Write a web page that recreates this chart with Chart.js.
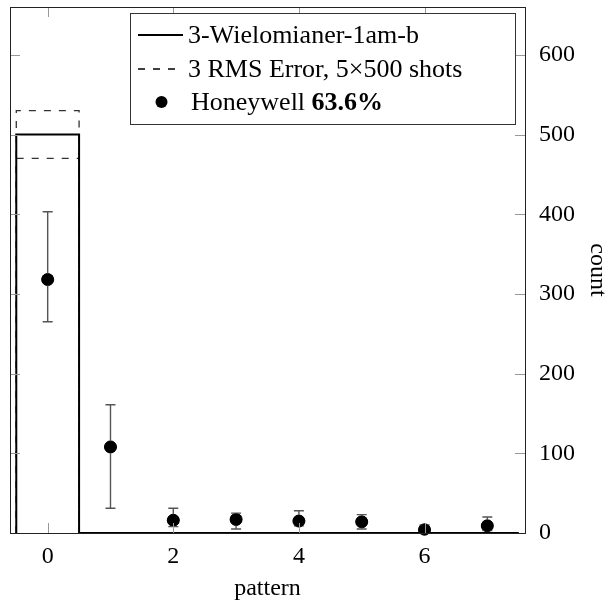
<!DOCTYPE html>
<html>
<head>
<meta charset="utf-8">
<script src="https://cdn.jsdelivr.net/npm/chart.js@4/dist/chart.umd.min.js"></script>
<style>
  html, body { margin: 0; padding: 0; background: #fff; }
  #wrap { width: 613px; height: 606px; }
</style>
</head>
<body>
<div id="wrap"><canvas id="countChart" width="613" height="606"></canvas></div>
<script>
const patterns = [0, 1, 2, 3, 4, 5, 6, 7];
const simCounts = [500, 0, 0, 0, 0, 0, 0, 0];
const rmsUpper = [530, 0, 0, 0, 0, 0, 0, 0];
const rmsLower = [470, 0, 0, 0, 0, 0, 0, 0];
const hwCounts = [318, 108, 16, 17, 15, 14, 4, 9];
const hwLow = [265, 31, 8, 5, 9, 5, 1, 3];
const hwHigh = [403, 161, 31, 25, 28, 23, 10, 20];
const xTicks = [0, 2, 4, 6];
const yTicks = [0, 100, 200, 300, 400, 500, 600];

const serif = '"Liberation Serif", "DejaVu Serif", serif';

// histogram outline: each bin is a flat step from i-0.5 to i+0.5
function stepPoints(values) {
    let pts = [{ x: patterns[0] - 0.5, y: 0 }];
    values.forEach((v, i) => {
        pts.push({ x: patterns[i] - 0.5, y: v });
        pts.push({ x: patterns[i] + 0.5, y: v });
    });
    pts.push({ x: patterns[patterns.length - 1] + 0.5, y: 0 });
    return pts;
}

const errorBars = {
    id: 'errorBars',
    afterDatasetsDraw(chart) {
        const ctx = chart.ctx;
        const xs = chart.scales.x, ys = chart.scales.y;
        ctx.save();
        ctx.strokeStyle = '#555';
        ctx.lineWidth = 1.4;
        patterns.forEach((p, i) => {
            const px = xs.getPixelForValue(p);
            const lo = ys.getPixelForValue(hwLow[i]);
            const hi = ys.getPixelForValue(hwHigh[i]);
            ctx.beginPath();
            ctx.moveTo(px, lo); ctx.lineTo(px, hi);
            ctx.moveTo(px - 5, lo); ctx.lineTo(px + 5, lo);
            ctx.moveTo(px - 5, hi); ctx.lineTo(px + 5, hi);
            ctx.stroke();
        });
        // draw the markers again on top of the bars
        ctx.fillStyle = '#000';
        patterns.forEach((p, i) => {
            ctx.beginPath();
            ctx.arc(xs.getPixelForValue(p), ys.getPixelForValue(hwCounts[i]), 6, 0, Math.PI * 2);
            ctx.fill();
        });
        ctx.restore();
    }
};

const frameAndTicks = {
    id: 'frameAndTicks',
    afterDraw(chart) {
        const ctx = chart.ctx;
        const a = chart.chartArea;
        const xs = chart.scales.x, ys = chart.scales.y;
        const len = 10;
        ctx.save();
        ctx.strokeStyle = '#999';
        ctx.lineWidth = 1;
        ctx.beginPath();
        xTicks.forEach(t => {
            const px = Math.round(xs.getPixelForValue(t)) + 0.5;
            ctx.moveTo(px, a.bottom); ctx.lineTo(px, a.bottom - len);
            ctx.moveTo(px, a.top); ctx.lineTo(px, a.top + len);
        });
        yTicks.forEach(t => {
            const py = Math.round(ys.getPixelForValue(t)) + 0.5;
            ctx.moveTo(a.left, py); ctx.lineTo(a.left + len, py);
            ctx.moveTo(a.right, py); ctx.lineTo(a.right - len, py);
        });
        ctx.stroke();

        ctx.strokeStyle = '#222';
        ctx.lineWidth = 1;
        ctx.strokeRect(Math.round(a.left) + 0.5, Math.round(a.top) + 0.5,
            Math.round(a.right - a.left), Math.round(a.bottom - a.top));

        // legend
        const lx = 130.5, ly = 13.5, lw = 385, lh = 111;
        ctx.fillStyle = '#fff';
        ctx.fillRect(lx, ly, lw, lh);
        ctx.strokeStyle = '#333';
        ctx.strokeRect(lx, ly, lw, lh);

        const rows = [35, 69, 102];
        ctx.strokeStyle = '#000';
        ctx.lineWidth = 2;
        ctx.beginPath();
        ctx.moveTo(138, rows[0]); ctx.lineTo(183, rows[0]);
        ctx.stroke();
        ctx.lineWidth = 1.3;
        ctx.setLineDash([7, 8]);
        ctx.beginPath();
        ctx.moveTo(138, rows[1]); ctx.lineTo(183, rows[1]);
        ctx.stroke();
        ctx.setLineDash([]);
        ctx.fillStyle = '#000';
        ctx.beginPath();
        ctx.arc(161.5, rows[2], 6, 0, Math.PI * 2);
        ctx.fill();

        ctx.textBaseline = 'middle';
        ctx.textAlign = 'left';
        ctx.font = '26px ' + serif;
        ctx.fillText('3-Wielomianer-1am-b', 188, rows[0] + 1);
        ctx.fillText('3 RMS Error, 5\u00d7500 shots', 188, rows[1] + 1);
        const hw = 'Honeywell ';
        ctx.fillText(hw, 191, rows[2] + 1);
        const w = ctx.measureText(hw).width;
        ctx.font = 'bold 26px ' + serif;
        ctx.fillText('63.6%', 191 + w, rows[2] + 1);
        ctx.restore();
    }
};

const ctx = document.getElementById('countChart').getContext('2d');

const countChart = new Chart(ctx, {
    type: 'line',
    data: {
        datasets: [
            {
                label: '3-Wielomianer-1am-b',
                data: stepPoints(simCounts),
                borderColor: '#000',
                borderWidth: 2,
                pointRadius: 0,
                fill: false
            },
            {
                label: '3 RMS Error upper',
                data: stepPoints(rmsUpper),
                borderColor: '#333',
                borderWidth: 1.3,
                borderDash: [7, 8],
                pointRadius: 0,
                fill: false
            },
            {
                label: '3 RMS Error lower',
                data: stepPoints(rmsLower),
                borderColor: '#333',
                borderWidth: 1.3,
                borderDash: [7, 8],
                pointRadius: 0,
                fill: false
            },
            {
                type: 'scatter',
                label: 'Honeywell 63.6%',
                data: patterns.map((p, i) => ({ x: p, y: hwCounts[i] })),
                backgroundColor: '#000',
                borderColor: '#000',
                pointRadius: 6
            }
        ]
    },
    options: {
        responsive: false,
        animation: false,
        layout: { padding: { left: 10, top: 3, right: 0, bottom: 0 } },
        plugins: {
            legend: { display: false },
            tooltip: { enabled: false }
        },
        scales: {
            x: {
                type: 'linear',
                position: 'bottom',
                min: -0.6,
                max: 7.6,
                afterBuildTicks: s => { s.ticks = xTicks.map(v => ({ value: v })); },
                afterFit: s => { s.height = 73; s.paddingLeft = 0; s.paddingRight = 0; },
                grid: { display: false },
                border: { display: false },
                ticks: { color: '#000', padding: 1, font: { family: serif, size: 24 } },
                title: {
                    display: true,
                    text: 'pattern',
                    color: '#000',
                    padding: { top: 0, bottom: 3 },
                    font: { family: serif, size: 24 }
                }
            },
            y: {
                type: 'linear',
                position: 'right',
                min: 0,
                max: 660,
                afterBuildTicks: s => { s.ticks = yTicks.map(v => ({ value: v })); },
                afterFit: s => { s.width = 88; s.paddingTop = 0; s.paddingBottom = 0; },
                grid: { display: false },
                border: { display: false },
                ticks: { color: '#000', padding: 6, font: { family: serif, size: 24 } },
                title: {
                    display: true,
                    text: 'count',
                    color: '#000',
                    padding: { top: 1, bottom: 0 },
                    font: { family: serif, size: 24 }
                }
            }
        }
    },
    plugins: [errorBars, frameAndTicks]
});
</script>
</body>
</html>
